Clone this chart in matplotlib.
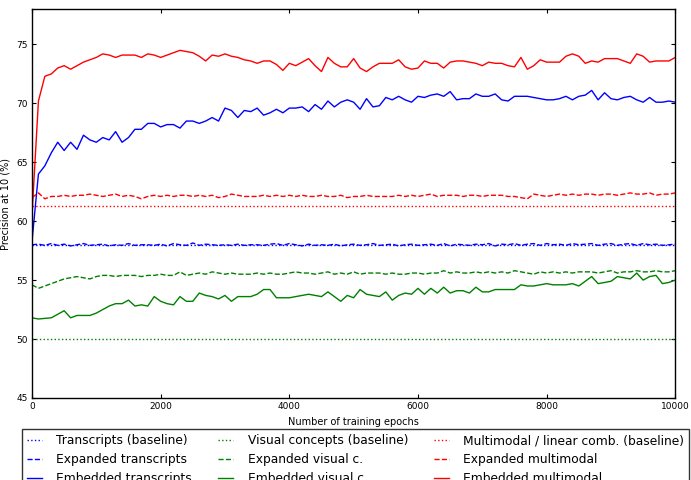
import matplotlib
matplotlib.use("Agg")
import matplotlib.pyplot as plt
import numpy as np

epochs = list(range(0, 10001, 100))

emb_multimodal = [
    60.5, 70.2, 72.3, 72.5, 73.0, 73.2, 72.9, 73.2, 73.5, 73.7,
    73.9, 74.2, 74.1, 73.9, 74.1, 74.1, 74.1, 73.9, 74.2, 74.1,
    73.9, 74.1, 74.3, 74.5, 74.4, 74.3, 74.0, 73.6, 74.1, 74.0,
    74.2, 74.0, 73.9, 73.7, 73.6, 73.4, 73.6, 73.6, 73.3, 72.8,
    73.4, 73.2, 73.5, 73.8, 73.2, 72.7, 73.9, 73.4, 73.1, 73.1,
    73.8, 73.0, 72.7, 73.1, 73.4, 73.4, 73.4, 73.7, 73.1, 72.9,
    73.0, 73.6, 73.4, 73.4, 73.0, 73.5, 73.6, 73.6, 73.5, 73.4,
    73.2, 73.5, 73.4, 73.4, 73.2, 73.1, 73.9, 72.9, 73.2, 73.7,
    73.5, 73.5, 73.5, 74.0, 74.2, 74.0, 73.4, 73.6, 73.5, 73.8,
    73.8, 73.8, 73.6, 73.4, 74.2, 74.0, 73.5, 73.6, 73.6, 73.6,
    73.9,
]

emb_transcripts = [
    58.3, 64.0, 64.7, 65.8, 66.7, 66.0, 66.7, 66.1, 67.3, 66.9,
    66.7, 67.1, 66.9, 67.6, 66.7, 67.1, 67.8, 67.8, 68.3, 68.3,
    68.0, 68.2, 68.2, 67.9, 68.5, 68.5, 68.3, 68.5, 68.8, 68.5,
    69.6, 69.4, 68.8, 69.4, 69.3, 69.6, 69.0, 69.2, 69.5, 69.2,
    69.6, 69.6, 69.7, 69.3, 69.9, 69.5, 70.2, 69.7, 70.1, 70.3,
    70.1, 69.5, 70.4, 69.7, 69.8, 70.5, 70.3, 70.6, 70.3, 70.1,
    70.6, 70.5, 70.7, 70.8, 70.6, 71.0, 70.3, 70.4, 70.4, 70.8,
    70.6, 70.6, 70.8, 70.3, 70.2, 70.6, 70.6, 70.6, 70.5, 70.4,
    70.3, 70.3, 70.4, 70.6, 70.3, 70.6, 70.7, 71.1, 70.3, 70.9,
    70.4, 70.3, 70.5, 70.6, 70.3, 70.1, 70.5, 70.1, 70.1, 70.2,
    70.1,
]

emb_visual = [
    51.8, 51.7, 51.75, 51.8, 52.1, 52.4, 51.8, 52.0, 52.0, 52.0,
    52.2, 52.5, 52.8, 53.0, 53.0, 53.3, 52.8, 52.9, 52.8, 53.6,
    53.2, 53.0, 52.9, 53.6, 53.2, 53.2, 53.9, 53.7, 53.6, 53.4,
    53.7, 53.2, 53.6, 53.6, 53.6, 53.8, 54.2, 54.2, 53.5, 53.5,
    53.5, 53.6, 53.7, 53.8, 53.7, 53.6, 54.0, 53.6, 53.2, 53.7,
    53.5, 54.2, 53.8, 53.7, 53.6, 54.0, 53.3, 53.7, 53.9, 53.8,
    54.3, 53.8, 54.3, 53.9, 54.4, 53.9, 54.1, 54.1, 53.9, 54.4,
    54.0, 54.0, 54.2, 54.2, 54.2, 54.2, 54.6, 54.5, 54.5, 54.6,
    54.7, 54.6, 54.6, 54.6, 54.7, 54.5, 54.9, 55.3, 54.7, 54.8,
    54.9, 55.3, 55.2, 55.1, 55.6, 55.0, 55.3, 55.4, 54.7, 54.8,
    55.0,
]

exp_multimodal = [
    62.0, 62.4, 61.9, 62.1, 62.1, 62.2, 62.1, 62.2, 62.2, 62.3,
    62.2, 62.1, 62.2, 62.3, 62.1, 62.2, 62.1, 61.9, 62.1, 62.2,
    62.1, 62.2, 62.1, 62.2, 62.2, 62.1, 62.2, 62.1, 62.2, 62.0,
    62.1, 62.3, 62.2, 62.1, 62.1, 62.1, 62.2, 62.1, 62.2, 62.1,
    62.2, 62.1, 62.2, 62.1, 62.1, 62.2, 62.1, 62.1, 62.2, 62.0,
    62.1, 62.1, 62.2, 62.1, 62.1, 62.1, 62.1, 62.2, 62.1, 62.2,
    62.1, 62.2, 62.3, 62.1, 62.2, 62.2, 62.2, 62.1, 62.2, 62.2,
    62.1, 62.2, 62.2, 62.2, 62.1, 62.1, 62.0, 61.9, 62.3, 62.2,
    62.1, 62.2, 62.3, 62.2, 62.3, 62.2, 62.3, 62.3, 62.2, 62.3,
    62.3, 62.2, 62.3, 62.4, 62.3, 62.3, 62.4, 62.2, 62.3, 62.3,
    62.4,
]

exp_transcripts = [
    58.0, 58.05, 57.95, 58.1, 57.95, 58.05, 57.9, 58.0, 58.1, 57.95,
    58.0, 58.05, 57.9, 58.0, 57.95, 58.1, 57.95, 58.0, 58.0, 57.95,
    58.05, 57.9, 58.1, 58.0, 57.95, 58.15, 57.95, 58.05, 58.0, 57.95,
    58.0, 57.95, 58.05, 57.95, 58.0, 58.0, 57.95, 58.05, 58.1, 57.95,
    58.1, 58.0, 57.9, 58.05, 57.95, 58.0, 57.95, 58.05, 57.9, 58.0,
    58.05, 57.95, 58.0, 58.1, 57.95, 58.0, 58.05, 57.9, 58.0, 58.05,
    57.95, 58.0, 58.05, 57.95, 58.1, 57.9, 58.05, 58.0, 57.95, 58.05,
    58.0, 58.1, 57.9, 58.05, 58.0, 58.1, 57.95, 58.05, 58.1, 57.95,
    58.1, 58.0, 58.05, 57.95, 58.1, 58.0, 58.05, 58.1, 57.95, 58.05,
    58.1, 57.95, 58.05, 58.1, 57.95, 58.1, 58.0, 58.05, 57.95, 58.0,
    58.05,
]

exp_visual = [
    54.6, 54.3, 54.5, 54.7, 54.9, 55.1, 55.2, 55.3, 55.2, 55.1,
    55.3, 55.4, 55.4, 55.3, 55.4, 55.4, 55.4, 55.3, 55.4, 55.4,
    55.5, 55.4, 55.4, 55.7, 55.4, 55.5, 55.6, 55.5, 55.7, 55.6,
    55.5, 55.6, 55.5, 55.5, 55.5, 55.6, 55.5, 55.6, 55.5, 55.5,
    55.6, 55.7, 55.6, 55.6, 55.5, 55.6, 55.7, 55.5, 55.6, 55.5,
    55.7, 55.5, 55.6, 55.6, 55.6, 55.5, 55.6, 55.5, 55.5, 55.6,
    55.6, 55.5, 55.6, 55.6, 55.8, 55.6, 55.7, 55.6, 55.6, 55.7,
    55.6, 55.7, 55.6, 55.7, 55.6, 55.8, 55.7, 55.6, 55.5, 55.7,
    55.6, 55.7, 55.6, 55.7, 55.6, 55.7, 55.7, 55.7, 55.6, 55.7,
    55.8, 55.6, 55.7, 55.7, 55.8, 55.7, 55.7, 55.8, 55.7, 55.7,
    55.8,
]

base_transcripts = 58.0
base_visual = 50.0
base_multimodal = 61.3

labels = [
    "Transcripts (baseline)", "Expanded transcripts", "Embedded transcripts",
    "Visual concepts (baseline)", "Expanded visual c.", "Embedded visual c.",
    "Multimodal / linear comb. (baseline)", "Expanded multimodal", "Embedded multimodal",
]

BLUE = "#0000ff"
GREEN = "#008000"
RED = "#ff0000"

fig = plt.figure(figsize=(6.91, 4.80), dpi=100)
ax = fig.add_axes([0.0463, 0.171, 0.931, 0.810])

x = np.array(epochs)
lw = 1.0
h = []
h += ax.plot(x, [base_transcripts] * len(x), ls=":", color=BLUE, lw=lw, label=labels[0])
h += ax.plot(x, exp_transcripts, ls="--", color=BLUE, lw=lw, label=labels[1])
h += ax.plot(x, emb_transcripts, ls="-", color=BLUE, lw=lw, label=labels[2])
h += ax.plot(x, [base_visual] * len(x), ls=":", color=GREEN, lw=lw, label=labels[3])
h += ax.plot(x, exp_visual, ls="--", color=GREEN, lw=lw, label=labels[4])
h += ax.plot(x, emb_visual, ls="-", color=GREEN, lw=lw, label=labels[5])
h += ax.plot(x, [base_multimodal] * len(x), ls=":", color=RED, lw=lw, label=labels[6])
h += ax.plot(x, exp_multimodal, ls="--", color=RED, lw=lw, label=labels[7])
h += ax.plot(x, emb_multimodal, ls="-", color=RED, lw=lw, label=labels[8])

ax.set_xlim(0, 10000)
ax.set_ylim(45, 78)
ax.set_xticks([0, 2000, 4000, 6000, 8000, 10000])
ax.set_yticks([45, 50, 55, 60, 65, 70, 75])
ax.tick_params(direction="in", top=True, right=True, labelsize=6.5, length=3, pad=3)
for s in ax.spines.values():
    s.set_linewidth(1.0)
ax.set_xlabel("Number of training epochs", fontsize=7, labelpad=4)
ax.set_ylabel("Precision at 10 (%)", fontsize=7, labelpad=4)

fig.legend(handles=h, labels=labels, ncol=3, loc="upper left", mode="expand",
           bbox_to_anchor=(0.0318, 0.0, 0.966, 0.106), fontsize=8.8, frameon=True,
           fancybox=False, edgecolor="black", handlelength=1.2,
           handletextpad=1.2, labelspacing=0.48, borderpad=0.42,
           borderaxespad=0.0)

fig.savefig("out.png", dpi=100)
